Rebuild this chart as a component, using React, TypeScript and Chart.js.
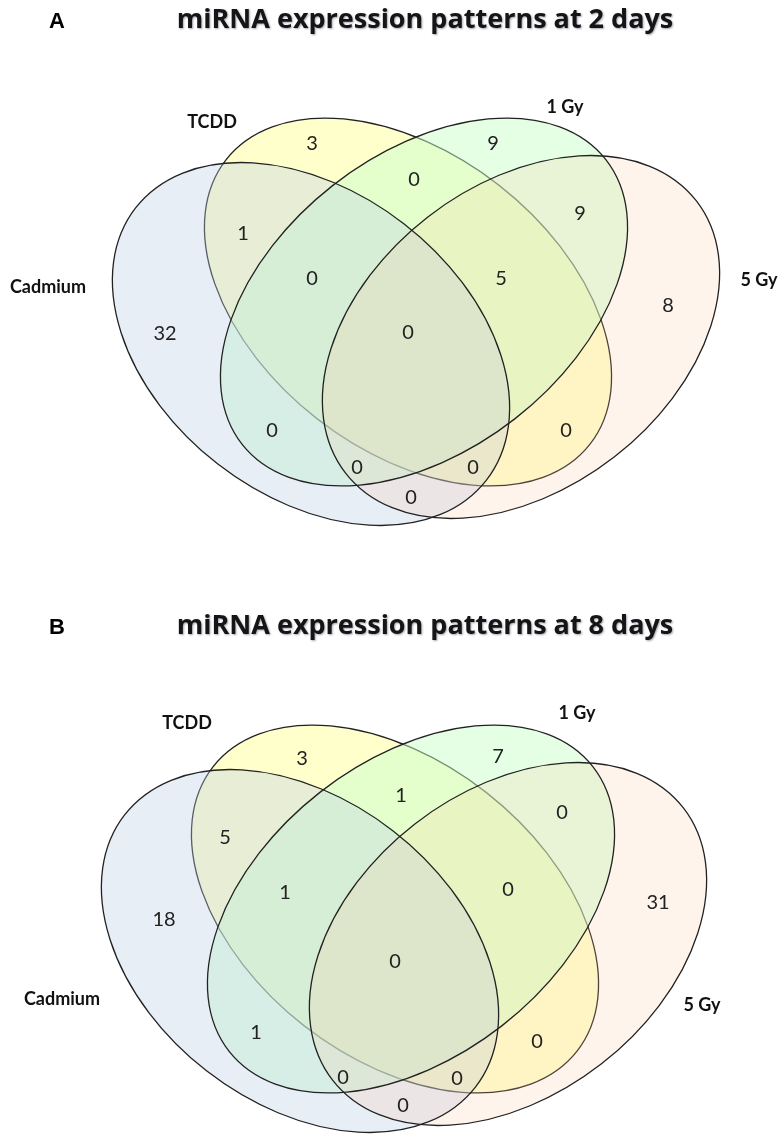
import { useEffect, useRef } from "react";
import { Chart, registerables } from "chart.js";

Chart.register(...registerables);

// ---------- data ----------
const SET_NAMES = ["Cadmium", "TCDD", "1 Gy", "5 Gy"];
// region keys: which sets each Venn region belongs to
const REGION_KEYS = [
  "Cadmium",
  "TCDD",
  "1 Gy",
  "5 Gy",
  "Cadmium+TCDD",
  "TCDD+1 Gy",
  "1 Gy+5 Gy",
  "Cadmium+TCDD+1 Gy",
  "TCDD+1 Gy+5 Gy",
  "Cadmium+TCDD+1 Gy+5 Gy",
  "Cadmium+1 Gy",
  "TCDD+5 Gy",
  "Cadmium+1 Gy+5 Gy",
  "Cadmium+TCDD+5 Gy",
  "Cadmium+5 Gy",
];
const COUNTS_2_DAYS = [32, 3, 9, 8, 1, 0, 9, 0, 5, 0, 0, 0, 0, 0, 0];
const COUNTS_8_DAYS = [18, 3, 7, 31, 5, 1, 0, 1, 0, 0, 1, 0, 0, 0, 0];
const TITLE_2_DAYS = "miRNA expression patterns at 2 days";
const TITLE_8_DAYS = "miRNA expression patterns at 8 days";
const PANEL_LETTERS = ["A", "B"];

// ---------- layout (panel-local pixel units, used through the scales) ----------
const W = 784;
const H = 569;

const REGION_X_A = [165, 312, 493, 668, 243, 414, 580, 312, 501, 408, 272, 566, 357, 473, 411];
const REGION_Y_A = [333, 143, 143, 305, 233, 179, 213, 278, 278, 332, 430, 430, 467, 467, 497];
const REGION_X_B = [164, 302, 498, 658, 225, 401, 562, 285, 508, 395, 256, 537, 343, 457, 403];
const REGION_Y_B = [350, 189, 187, 333, 268, 226, 243, 323, 320, 392, 463, 472, 508, 509, 536];

const ELL_CX_A = [311, 408, 424, 521];
const ELL_CY_A = [344, 302, 302, 337];
const ELL_CX_B = [300, 395, 411, 508];
const ELL_CY_B = [382, 340, 340, 375];
const ELL_RA = [222, 231, 231, 222];
const ELL_RB = [152, 148, 148, 152];
const ELL_ROT = [37.8, 38, -38, -37.8];
const ELL_FILL = [
  "rgba(185,205,229,0.35)",
  "rgba(255,255,0,0.2)",
  "rgba(204,255,204,0.5)",
  "rgba(250,200,160,0.2)",
];

const LABEL_X_A = [48, 212, 565, 759];
const LABEL_Y_A = [287, 122, 107, 280];
const LABEL_X_B = [62, 187, 577, 702];
const LABEL_Y_B = [430, 154, 144, 436];

type PanelCfg = {
  letter: string;
  title: string;
  titleY: number;
  counts: number[];
  rx: number[];
  ry: number[];
  ecx: number[];
  ecy: number[];
  lx: number[];
  ly: number[];
};

const PANELS: PanelCfg[] = [
  {
    letter: PANEL_LETTERS[0],
    title: TITLE_2_DAYS,
    titleY: 20,
    counts: COUNTS_2_DAYS,
    rx: REGION_X_A,
    ry: REGION_Y_A,
    ecx: ELL_CX_A,
    ecy: ELL_CY_A,
    lx: LABEL_X_A,
    ly: LABEL_Y_A,
  },
  {
    letter: PANEL_LETTERS[1],
    title: TITLE_8_DAYS,
    titleY: 57,
    counts: COUNTS_8_DAYS,
    rx: REGION_X_B,
    ry: REGION_Y_B,
    ecx: ELL_CX_B,
    ecy: ELL_CY_B,
    lx: LABEL_X_B,
    ly: LABEL_Y_B,
  },
];

function VennPanel({ cfg }: { cfg: PanelCfg }) {
  const ref = useRef<HTMLCanvasElement | null>(null);
  useEffect(() => {
    if (!ref.current) return;

    const ellipsePlugin = {
      id: "vennEllipses",
      beforeDatasetsDraw(chart: any) {
        const { ctx, scales } = chart;
        const xs = scales.x;
        const ys = scales.y;
        const path = (i: number) => {
          const px = xs.getPixelForValue(cfg.ecx[i]);
          const py = ys.getPixelForValue(cfg.ecy[i]);
          const ra = Math.abs(xs.getPixelForValue(cfg.ecx[i] + ELL_RA[i]) - px);
          const rb = Math.abs(xs.getPixelForValue(cfg.ecx[i] + ELL_RB[i]) - px);
          ctx.beginPath();
          ctx.ellipse(px, py, ra, rb, (ELL_ROT[i] * Math.PI) / 180, 0, Math.PI * 2);
        };
        const fill = (i: number) => {
          path(i);
          ctx.fillStyle = ELL_FILL[i];
          ctx.fill();
        };
        const stroke = (i: number) => {
          path(i);
          ctx.strokeStyle = "#222";
          ctx.lineWidth = 1.3;
          ctx.stroke();
        };
        ctx.save();
        fill(1);
        stroke(1);
        fill(2);
        fill(0);
        fill(3);
        stroke(2);
        stroke(0);
        stroke(3);
        ctx.restore();
      },
    };

    const textPlugin = {
      id: "vennText",
      afterDatasetsDraw(chart: any) {
        const { ctx, scales } = chart;
        const xs = scales.x;
        const ys = scales.y;
        ctx.save();
        ctx.textAlign = "center";
        ctx.textBaseline = "middle";
        // region counts at dataset points
        const meta = chart.getDatasetMeta(0);
        ctx.fillStyle = "#222";
        ctx.font = "20px Lato";
        meta.data.forEach((el: any, i: number) => {
          ctx.fillText(String(cfg.counts[i]), el.x, el.y + 1);
        });
        // set names
        ctx.font = "bold 18px Lato";
        ctx.fillStyle = "#111";
        SET_NAMES.forEach((name, i) => {
          ctx.fillText(name, xs.getPixelForValue(cfg.lx[i]), ys.getPixelForValue(cfg.ly[i]));
        });
        // panel letter
        ctx.font = "bold 22px 'Liberation Sans', Arial, sans-serif";
        ctx.fillStyle = "#000";
        ctx.fillText(cfg.letter, xs.getPixelForValue(57), ys.getPixelForValue(cfg.titleY + 2));
        // title
        ctx.font = "bold 27px 'Open Sans'";
        ctx.fillStyle = "#151515";
        ctx.shadowColor = "rgba(60,60,90,0.45)";
        ctx.shadowBlur = 2;
        ctx.shadowOffsetX = 1;
        ctx.shadowOffsetY = 1;
        ctx.fillText(cfg.title, xs.getPixelForValue(425), ys.getPixelForValue(cfg.titleY));
        ctx.restore();
      },
    };

    const chart = new Chart(ref.current, {
      type: "scatter",
      data: {
        labels: REGION_KEYS,
        datasets: [
          {
            label: cfg.title,
            data: cfg.counts.map((_, i) => ({ x: cfg.rx[i], y: cfg.ry[i] })),
            pointRadius: 0,
            pointHoverRadius: 0,
            backgroundColor: "transparent",
            borderColor: "transparent",
          },
        ],
      },
      options: {
        animation: false,
        responsive: false,
        maintainAspectRatio: false,
        layout: { padding: 0 },
        events: [],
        plugins: {
          legend: { display: false },
          tooltip: { enabled: false },
          title: { display: false },
        },
        scales: {
          x: { type: "linear", min: 0, max: W, display: false },
          y: { type: "linear", min: 0, max: H, reverse: true, display: false },
        },
      },
      plugins: [ellipsePlugin, textPlugin],
    });
    return () => chart.destroy();
  }, [cfg]);
  return <canvas ref={ref} width={W} height={H} style={{ display: "block", width: W, height: H }} />;
}

export default function App() {
  return (
    <div
      style={{
        position: "absolute",
        left: 0,
        top: 0,
        width: 784,
        height: 1138,
        background: "#fff",
        overflow: "hidden",
      }}
    >
      {PANELS.map((p) => (
        <VennPanel key={p.letter} cfg={p} />
      ))}
    </div>
  );
}
